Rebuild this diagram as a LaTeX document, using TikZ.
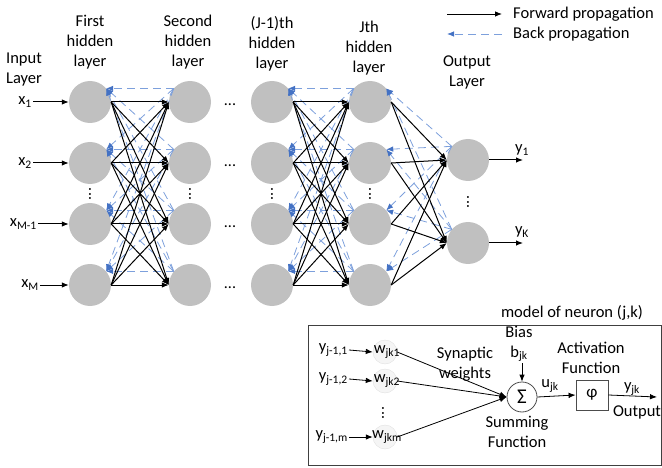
\documentclass[tikz,border=0pt]{standalone}
\usepackage{fontspec}
\setmainfont{Carlito}
\usetikzlibrary{arrows.meta}
\definecolor{bpblue}{RGB}{125,160,220}
\definecolor{bptip}{RGB}{68,114,196}
\definecolor{neurongray}{RGB}{192,192,192}
\begin{document}
\begin{tikzpicture}[x=1pt,y=-1pt,
  neuron/.style={circle,fill=neurongray,minimum size=42pt,inner sep=0pt},
  lbl/.style={font=\fontsize{16.5}{20}\selectfont,align=center,inner sep=1pt},
  fwd/.style={draw=black,line width=1pt,-{Latex[length=7pt,width=5.5pt]}},
  bwd/.style={draw=bpblue,line width=0.8pt,dash pattern=on 8pt off 5pt,-{Latex[length=7pt,width=5.5pt,color=bptip]}},
  hdots/.style={font=\fontsize{16}{20}\selectfont,inner sep=0pt},
  vdots/.style={font=\fontsize{16}{20}\selectfont,inner sep=0pt,rotate=90},
  wcirc/.style={circle,draw=black!12,fill=black!4,minimum size=24pt,inner sep=0pt},
  boxshape/.style={draw=black!75,line width=0.8pt,minimum width=353pt,minimum height=140pt,inner sep=0pt,anchor=north west}
]
\useasboundingbox (0,0) rectangle (662,468);

% headers
\node[lbl] (hin) at (24,70) {Input\\Layer};
\node[lbl] (hf) at (90,42) {First\\hidden\\layer};
\node[lbl] (hs) at (188,42) {Second\\hidden\\layer};
\node[lbl] (hp) at (272,44) {(J-1)th\\hidden\\layer};
\node[lbl] (hj) at (369,48) {Jth\\hidden\\layer};
\node[lbl] (ho) at (467,72) {Output\\Layer};

% legend
\coordinate (lf1) at (447,14);
\coordinate (lf2) at (502,14);
\coordinate (lb1) at (447,34);
\coordinate (lb2) at (502,34);
\draw[fwd,line width=0.8pt] (lf1) -- (lf2);
\draw[bwd] (lb2) -- (lb1);
\node[lbl,anchor=west] (lft) at (512,14) {Forward propagation};
\node[lbl,anchor=west] (lbt) at (512,34) {Back propagation};

% neurons
\foreach \i/\y in {1/102,2/163,3/224,4/285} {
  \node[neuron] (f\i) at (90,\y) {};
  \node[neuron] (s\i) at (190,\y) {};
  \node[neuron] (p\i) at (272,\y) {};
  \node[neuron] (j\i) at (370,\y) {};
  \node[hdots] (d\i) at (230,\y+3) {...};
}
\node[neuron] (o1) at (468,160) {};
\node[neuron] (o2) at (468,243) {};

\node[vdots] (vf) at (90,194) {...};
\node[vdots] (vs) at (190,194) {...};
\node[vdots] (vp) at (272,194) {...};
\node[vdots] (vj) at (370,194) {...};
\node[vdots] (vo) at (468,202) {...};

% back propagation
\foreach \a in {1,...,4} {
  \foreach \b in {1,...,4} {
    \draw[bwd] (s\a.140) -- (f\b.40);
    \draw[bwd] (j\a.140) -- (p\b.40);
  }
  \foreach \b in {1,2} {
    \draw[bwd] (o\b.140) -- (j\a.40);
  }
}
% forward propagation
\foreach \a in {1,...,4} {
  \foreach \b in {1,...,4} {
    \draw[fwd] (f\a.east) -- (s\b.west);
    \draw[fwd] (p\a.east) -- (j\b.west);
  }
  \foreach \b in {1,2} {
    \draw[fwd] (j\a.east) -- (o\b.west);
  }
}

% inputs
\node[lbl,anchor=east] (x1) at (33,102) {x\textsubscript{1}};
\node[lbl,anchor=east] (x2) at (33,163) {x\textsubscript{2}};
\node[lbl,anchor=east] (x3) at (38,224) {x\textsubscript{M-1}};
\node[lbl,anchor=east] (x4) at (40,285) {x\textsubscript{M}};
\foreach \i in {1,...,4} { \draw[fwd] (x\i.east) -- (f\i.west); }

% outputs
\coordinate (oy1) at (523,160);
\coordinate (oy2) at (523,243);
\draw[fwd] (o1.east) -- (oy1);
\draw[fwd] (o2.east) -- (oy2);
\node[lbl] (y1) at (522,150) {y\textsubscript{1}};
\node[lbl] (yk) at (522,232) {y\textsubscript{K}};

% neuron model
\node[lbl] (mtitle) at (572,313) {model of neuron (j,k)};
\node[boxshape] (box) at (308,325) {};

\node[wcirc] (w1) at (385,352) {};
\node[wcirc] (w2) at (385,381) {};
\node[wcirc] (w3) at (385,437) {};
\node[lbl] (w1t) at (387,352) {w\textsubscript{jk1}};
\node[lbl] (w2t) at (387,381) {w\textsubscript{jk2}};
\node[lbl] (w3t) at (387,437) {w\textsubscript{jkm}};
\node[vdots] (vw) at (383,413) {...};

\node[lbl,anchor=east] (yi1) at (349,350) {y\textsubscript{j-1,1}};
\node[lbl,anchor=east] (yi2) at (349,379) {y\textsubscript{j-1,2}};
\node[lbl,anchor=east] (yi3) at (349,437) {y\textsubscript{j-1,m}};
\foreach \i in {1,2,3} { \draw[fwd,line width=0.8pt] (yi\i.east) -- (w\i.west); }

\node[circle,draw=black!70,line width=0.8pt,minimum size=30pt,inner sep=0pt,font=\fontsize{21}{24}\selectfont] (sum) at (522,397) {Σ};
\foreach \i in {1,2,3} { \draw[fwd,line width=0.8pt] (w\i.east) -- (sum.west); }

\node[lbl] (syn) at (465,364) {Synaptic\\weights};
\node[lbl] (bias) at (519,344) {Bias\\b\textsubscript{jk}};
\draw[fwd,line width=0.8pt] (bias.south -| sum.north) -- (sum.north);
\node[lbl] (sumf) at (517,432) {Summing\\Function};

\node[draw=black!70,line width=0.8pt,minimum width=32pt,minimum height=30pt,inner sep=0pt,font=\fontsize{17}{20}\selectfont] (phi) at (592,395) {φ};
\draw[fwd,line width=0.8pt] (sum.east) -- (phi.west);
\node[lbl] (ujk) at (550,386) {u\textsubscript{jk}};
\node[lbl] (act) at (591,358) {Activation\\Function};
\coordinate (yout) at (657,397);
\draw[fwd,line width=0.8pt] (phi.east) -- (yout);
\node[lbl] (yjk) at (632,389) {y\textsubscript{jk}};
\node[lbl] (outl) at (637,412) {Output};
\end{tikzpicture}
\end{document}
